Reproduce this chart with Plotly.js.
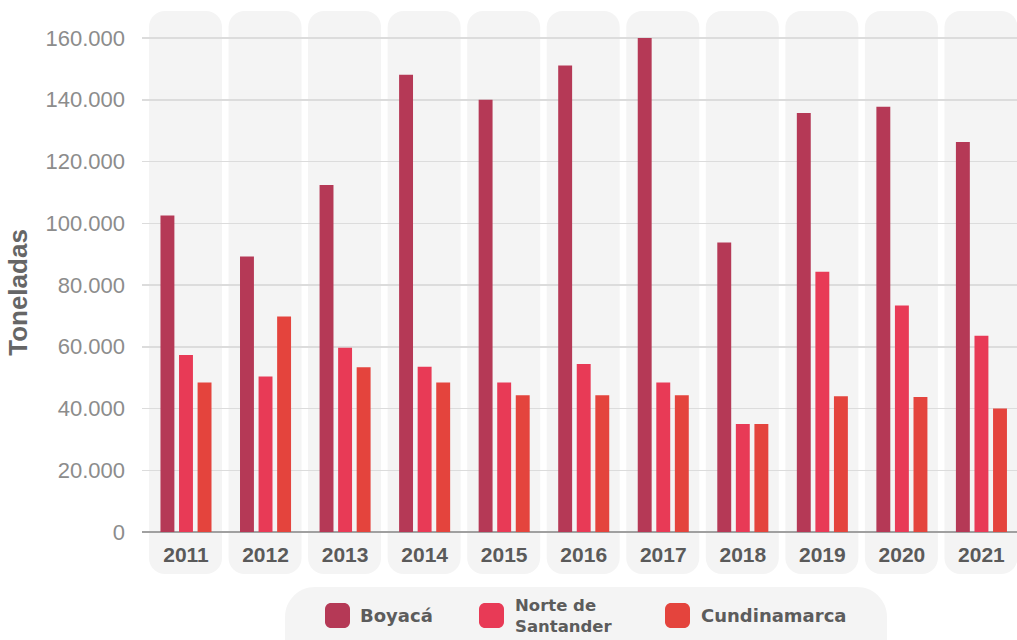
<!DOCTYPE html>
<html>
<head>
<meta charset="utf-8">
<script src="https://cdn.plot.ly/plotly-3.0.1.min.js"></script>
<style>html,body{margin:0;padding:0;background:#fff;}#chart{width:1017px;height:640px;}</style>
</head>
<body>
<div id="chart"></div>
<script>
// ---- data ----
const years = ['2011','2012','2013','2014','2015','2016','2017','2018','2019','2020','2021'];
const seriesNames = ['Boyacá', 'Norte de Santander', 'Cundinamarca'];
const legendLabels = ['Boyacá', 'Norte de<br>Santander', 'Cundinamarca'];
const boyaca = [102500, 89200, 112400, 148100, 140000, 151100, 160000, 93800, 135700, 137700, 126300];
const norteSantander = [57300, 50400, 59700, 53500, 48400, 54400, 48400, 35000, 84300, 73400, 63600];
const cundinamarca = [48400, 69800, 53400, 48400, 44300, 44300, 44300, 35000, 44000, 43700, 40000];
const seriesColors = ['#B53956', '#E83A56', '#E4443D'];

// ---- geometry (pixels) ----
const W = 1017, H = 640;
const M = {l: 142, r: 0, t: 11, b: 66};
const plotW = W - M.l - M.r, plotH = H - M.t - M.b;
const xr0 = -0.553, xr1 = xr0 + years.length;
const yTop = 168745, yBot = -13603;
const px2x = p => (p - M.l) / plotW;
const py2y = p => (H - M.b - p) / plotH;
const catPx = i => M.l + (i - xr0) / (xr1 - xr0) * plotW;

function roundRect(x0, y0, x1, y1, r) {
  const k = 0.5523 * r;
  const X = px2x, Y = py2y;
  const p = [];
  p.push('M' + X(x0 + r) + ',' + Y(y0));
  p.push('L' + X(x1 - r) + ',' + Y(y0));
  p.push('C' + X(x1 - r + k) + ',' + Y(y0) + ' ' + X(x1) + ',' + Y(y0 + r - k) + ' ' + X(x1) + ',' + Y(y0 + r));
  p.push('L' + X(x1) + ',' + Y(y1 - r));
  p.push('C' + X(x1) + ',' + Y(y1 - r + k) + ' ' + X(x1 - r + k) + ',' + Y(y1) + ' ' + X(x1 - r) + ',' + Y(y1));
  p.push('L' + X(x0 + r) + ',' + Y(y1));
  p.push('C' + X(x0 + r - k) + ',' + Y(y1) + ' ' + X(x0) + ',' + Y(y1 - r + k) + ' ' + X(x0) + ',' + Y(y1 - r));
  p.push('L' + X(x0) + ',' + Y(y0 + r));
  p.push('C' + X(x0) + ',' + Y(y0 + r - k) + ' ' + X(x0 + r - k) + ',' + Y(y0) + ' ' + X(x0 + r) + ',' + Y(y0));
  p.push('Z');
  return p.join(' ');
}

const shapes = [];
years.forEach((y, i) => {
  const c = catPx(i) - 0.5;
  shapes.push({type: 'path', xref: 'paper', yref: 'paper', layer: 'below',
    path: roundRect(c - 36.5, 11, c + 36.5, 574, 16),
    fillcolor: '#F4F4F4', line: {width: 0}});
});
// legend pill
shapes.push({type: 'path', xref: 'paper', yref: 'paper', layer: 'below',
  path: roundRect(285, 587, 887, 670, 30), fillcolor: '#F4F4F4', line: {width: 0}});

const legendSquareX = [325, 479, 665];
const legendTextX = [359, 514, 700];
const annotations = [];
seriesNames.forEach((n, s) => {
  shapes.push({type: 'path', xref: 'paper', yref: 'paper', layer: 'above',
    path: roundRect(legendSquareX[s], 603, legendSquareX[s] + 25, 628, 6),
    fillcolor: seriesColors[s], line: {width: 0}});
  const multi = legendLabels[s].indexOf('<br>') >= 0;
  annotations.push({xref: 'paper', yref: 'paper', x: px2x(legendTextX[s]), y: py2y(615.5),
    xanchor: 'left', yanchor: 'middle', align: 'left', showarrow: false, text: legendLabels[s], borderpad: 0,
    font: {family: 'DejaVu Sans, sans-serif', size: multi ? 16.5 : 18, weight: 'bold', color: '#5c5c5c'}});
});

const valuesList = [boyaca, norteSantander, cundinamarca];
const traces = valuesList.map((v, s) => ({
  type: 'bar', name: seriesNames[s], x: years, y: v,
  marker: {color: seriesColors[s], line: {width: 0}},
  hoverinfo: 'x+y+name'
}));

const layout = {
  width: W, height: H,
  margin: M,
  paper_bgcolor: '#ffffff', plot_bgcolor: 'rgba(0,0,0,0)',
  separators: ',.',
  showlegend: false,
  barmode: 'group', bargap: 0.3, bargroupgap: 0.25,
  xaxis: {
    type: 'category', range: [xr0, xr1], fixedrange: true,
    showgrid: false, showline: false, zeroline: false, ticks: '',
    ticklabelposition: 'inside', ticklabelstandoff: 5,
    tickfont: {family: 'Liberation Sans, Arial, sans-serif', size: 21, weight: 'bold', color: '#5a5a5a'}
  },
  yaxis: {
    range: [yBot, yTop], tick0: 0, dtick: 20000, tickformat: ',d',
    showgrid: true, gridcolor: '#DCDCDC', gridwidth: 1.5,
    zeroline: true, zerolinecolor: '#A0A0A0', zerolinewidth: 1.5,
    showline: false, ticks: '', ticklabelstandoff: 16,
    tickfont: {family: 'Liberation Sans, Arial, sans-serif', size: 22, color: '#8C8C8C'},
    title: {text: 'Toneladas', standoff: 10,
      font: {family: 'Liberation Sans, Arial, sans-serif', size: 26, weight: 'bold', color: '#666666'}}
  },
  shapes: shapes,
  annotations: annotations
};

Plotly.newPlot('chart', traces, layout, {displayModeBar: false, staticPlot: true});
</script>
</body>
</html>
